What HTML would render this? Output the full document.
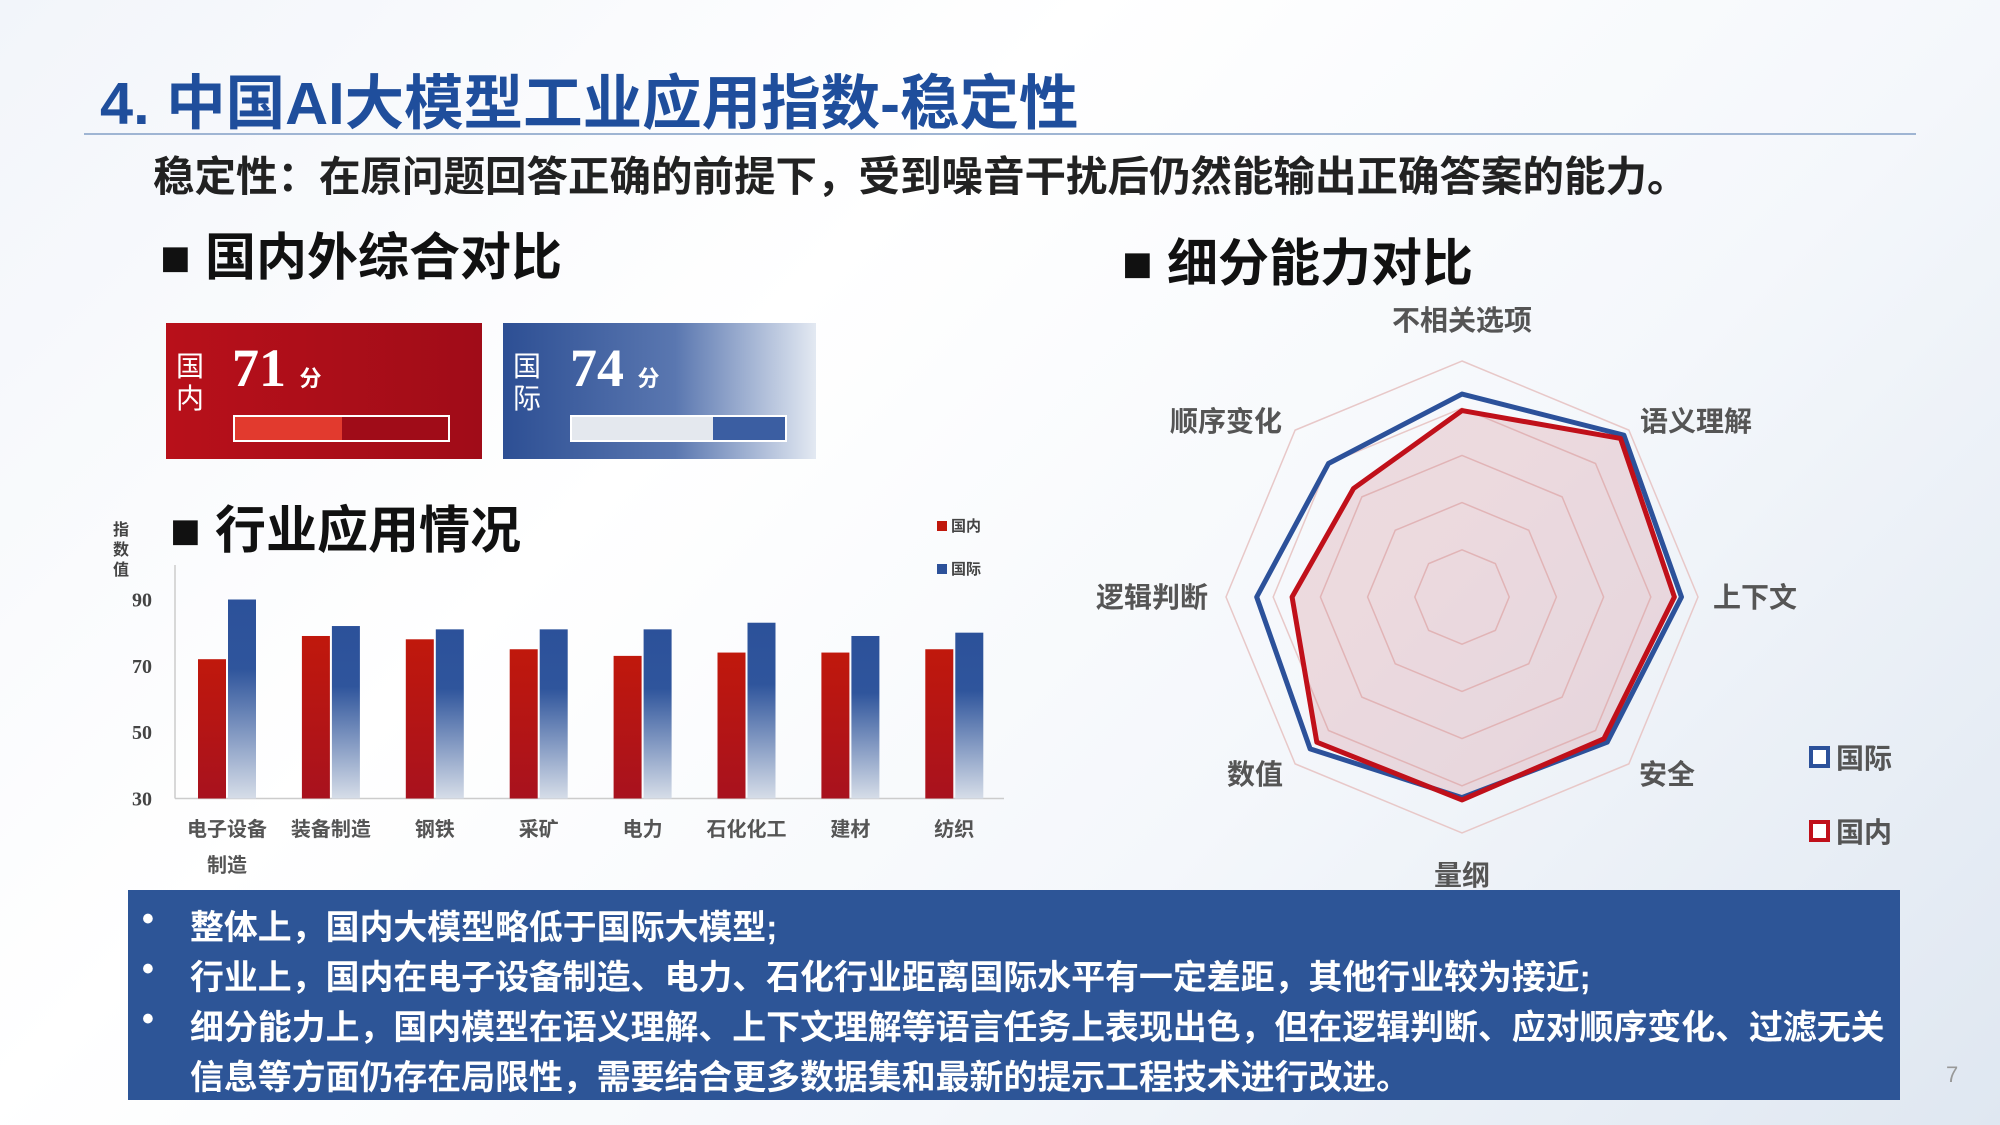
<!DOCTYPE html>
<html><head><meta charset="utf-8">
<style>
body{margin:0;width:2000px;height:1125px;overflow:hidden;font-family:"Liberation Sans","Noto Sans CJK SC",sans-serif;}
#root{position:relative;width:2000px;height:1125px;background:linear-gradient(135deg,#f2f5fa 0%,#ffffff 35%,#f4f7fb 65%,#dfe7f1 100%);}
.abs{position:absolute;white-space:nowrap;}
.b{font-weight:bold;}
</style></head><body>
<div id="root">
<div class="abs b" style="left:100px;top:56px;font-size:59.5px;color:#1f4e9c;">4. 中国AI大模型工业应用指数-稳定性</div>
<div class="abs" style="left:84px;top:133px;width:1832px;height:2px;background:#9fb5d3;"></div>
<div class="abs b" style="left:153px;top:143px;font-size:41.5px;color:#222;">稳定性：在原问题回答正确的前提下，受到噪音干扰后仍然能输出正确答案的能力。</div>
<div class="abs b" style="left:160px;top:216px;font-size:51px;color:#111;">■ 国内外综合对比</div>
<div class="abs b" style="left:1122px;top:222px;font-size:51px;color:#111;">■ 细分能力对比</div>
<div class="abs b" style="left:170px;top:489px;font-size:51px;color:#111;">■ 行业应用情况</div>

<div class="abs" style="left:166px;top:323px;width:316px;height:136px;background:linear-gradient(90deg,#b8101a,#a00c18);">
 <div class="abs" style="left:10px;top:28px;font-size:28px;line-height:32px;color:#fff;white-space:normal;width:30px;">国内</div>
 <div class="abs b" style="left:66px;top:14px;font-size:54px;color:#fff;font-family:'Liberation Serif',serif;">71 <span style="font-size:22px;font-family:'Noto Sans CJK SC',sans-serif;">分</span></div>
 <div class="abs" style="left:67px;top:92px;width:213px;height:23px;border:2px solid #fff;background:#a00c18;"><div style="width:50%;height:100%;background:#e23a2e;"></div></div>
</div>
<div class="abs" style="left:503px;top:323px;width:313px;height:136px;background:linear-gradient(90deg,#2d4f94,#5a77b0 55%,#e3e9f2);">
 <div class="abs" style="left:10px;top:28px;font-size:28px;line-height:32px;color:#fff;white-space:normal;width:30px;">国际</div>
 <div class="abs b" style="left:67px;top:14px;font-size:54px;color:#fff;font-family:'Liberation Serif',serif;">74 <span style="font-size:22px;font-family:'Noto Sans CJK SC',sans-serif;">分</span></div>
 <div class="abs" style="left:67px;top:92px;width:213px;height:23px;border:2px solid #fff;background:#3b5ea2;"><div style="width:66%;height:100%;background:#e4e8ee;"></div></div>
</div>

<svg class="abs" style="left:0;top:0" width="2000" height="1125" id="charts">
<defs>
<linearGradient id="gr" x1="0" y1="0" x2="0" y2="1"><stop offset="0" stop-color="#c0180c"/><stop offset="1" stop-color="#a8121e"/></linearGradient>
<linearGradient id="gb" x1="0" y1="0" x2="0" y2="1"><stop offset="0" stop-color="#2c519a"/><stop offset="0.35" stop-color="#2f559c"/><stop offset="1" stop-color="#d6dde8"/></linearGradient>
</defs>
<g id="bars"></g><g id="radar"></g>
</svg>

<div class="abs b" style="left:128px;top:890px;width:1772px;height:210px;background:#2d5597;color:#fff;font-size:33.9px;">
 <div class="abs" style="left:14px;top:10px;">•</div><div class="abs" style="left:62px;top:10px;">整体上，国内大模型略低于国际大模型;</div>
 <div class="abs" style="left:14px;top:60px;">•</div><div class="abs" style="left:62px;top:60px;">行业上，国内在电子设备制造、电力、石化行业距离国际水平有一定差距，其他行业较为接近;</div>
 <div class="abs" style="left:14px;top:110px;">•</div><div class="abs" style="left:62px;top:110px;">细分能力上，国内模型在语义理解、上下文理解等语言任务上表现出色，但在逻辑判断、应对顺序变化、过滤无关</div>
 <div class="abs" style="left:62px;top:160px;">信息等方面仍存在局限性，需要结合更多数据集和最新的提示工程技术进行改进。</div>
</div>
<div class="abs" style="left:1946px;top:1062px;font-size:22px;color:#999;">7</div>
</div>
<script>
const categories=["电子设备制造","装备制造","钢铁","采矿","电力","石化化工","建材","纺织"];
const domesticValues=[72,79,78,75,73,74,74,75];
const internationalValues=[90,82,81,81,81,83,79,80];
const yTicks=[30,50,70,90];
const radarAxes=["不相关选项","语义理解","上下文","安全","量纲","数值","逻辑判断","顺序变化"];
const radarIntl=[86,97,93,87,85,91,87,80];
const radarDom=[79,95,90,85,86,87,72,65];

const NS="http://www.w3.org/2000/svg";
function mk(tag,attrs,parent,text){const e=document.createElementNS(NS,tag);for(const k in attrs)e.setAttribute(k,attrs[k]);if(text!==undefined)e.textContent=text;parent.appendChild(e);return e;}
const bars=document.getElementById('bars');
const y0=798.5,yTop=599.5;
const y=v=>y0-(v-30)*(y0-yTop)/60;
const x0=198,step=103.9,bw=28;
mk('line',{x1:175,y1:565,x2:175,y2:y0,stroke:'#ccc','stroke-width':1.5},bars);
const ax=mk('line',{x1:175,y1:y0,x2:1004,y2:y0,stroke:'#ccc','stroke-width':1.5},bars);


yTicks.forEach(t=>{const e=mk('text',{x:152,y:y(t)+7,'text-anchor':'end','font-size':20,'font-family':'Liberation Serif,serif','font-weight':'bold',fill:'#444'},bars,String(t));

});
const yt=mk('text',{x:120,y:535,'font-size':16,'font-weight':'bold',fill:'#444','font-family':'Noto Sans CJK SC,sans-serif'},bars);
["指","数","值"].forEach((c,i)=>mk('tspan',{x:113,dy:i?20:0},yt,c));


categories.forEach((c,i)=>{const bx=x0+i*step;
const r=mk('rect',{x:bx,y:y(domesticValues[i]),width:bw,height:y0-y(domesticValues[i]),fill:'url(#gr)'},bars);


const b=mk('rect',{x:bx+30,y:y(internationalValues[i]),width:bw,height:y0-y(internationalValues[i]),fill:'url(#gb)'},bars);


const cx=bx+29;
let l1=c,l2=null;if(c.length>4){l1=c.slice(0,4);l2=c.slice(4);}
const t=mk('text',{x:cx,y:836,'text-anchor':'middle','font-size':20,'font-weight':'bold',fill:'#555','font-family':'Noto Sans CJK SC,sans-serif'},bars,l1);


if(l2){mk('text',{x:cx,y:872,'text-anchor':'middle','font-size':20,'font-weight':'bold',fill:'#555','font-family':'Noto Sans CJK SC,sans-serif'},bars,l2);}
});
[["国内","#c0180c",533],["国际","#2c519a",576]].forEach(([n,col,yy])=>{
const g=mk('g',{},bars);


mk('rect',{x:937,y:yy-12,width:10,height:10,fill:col},g);mk('text',{x:951,y:yy-2,'font-size':15,'font-weight':'bold',fill:'#444','font-family':'Noto Sans CJK SC,sans-serif'},g,n);});

const rg=document.getElementById('radar');
const cx=1462,cy=597,R=236;
const pt=(i,v)=>{const a=-Math.PI/2+i*Math.PI/4;return [cx+Math.cos(a)*R*v/100,cy+Math.sin(a)*R*v/100];};
[20,40,60,80,100].forEach(lv=>{const p=radarAxes.map((_,i)=>pt(i,lv).join(',')).join(' ');
const e=mk('polygon',{points:p,fill:'none',stroke:'#e8c8c8','stroke-width':1.5},rg);

});
mk('polygon',{points:radarDom.map((v,i)=>pt(i,v).join(',')).join(' '),fill:'rgba(200,100,110,0.2)',stroke:'none'},rg);
const pi=mk('polygon',{points:radarIntl.map((v,i)=>pt(i,v).join(',')).join(' '),fill:'none',stroke:'#2c519a','stroke-width':5,'stroke-linejoin':'round'},rg);


const pd2=mk('polygon',{points:radarDom.map((v,i)=>pt(i,v).join(',')).join(' '),fill:'none',stroke:'#c0101a','stroke-width':5,'stroke-linejoin':'round'},rg);


radarAxes.forEach((n,i)=>{
const a=-Math.PI/2+i*Math.PI/4;
const d=R+[-41,70,120,70,-41,70,120,70][i];
let X=cx+Math.cos(a)*d,Y=cy+Math.sin(a)*d;
if(i==0)Y=320;if(i==4)Y=875;
if(i==1||i==7){Y=421;X=i==1?1696:1226;}
if(i==3||i==5){Y=774;X=i==3?1667:1255;}
if(i==2)X=1755;if(i==6)X=1152;
const t=mk('text',{x:X,y:Y+10,'text-anchor':'middle','font-size':28,'font-weight':'bold',fill:'#555','font-family':'Noto Sans CJK SC,sans-serif'},rg,n);

});
[["国际","#2c519a",758],["国内","#c0101a",832]].forEach(([n,col,yy])=>{
const g=mk('g',{},rg);


mk('rect',{x:1811,y:yy-10,width:17,height:18,fill:'#fff',stroke:col,'stroke-width':4},g);
mk('text',{x:1836,y:yy+10,'font-size':28,'font-weight':'bold',fill:'#555','font-family':'Noto Sans CJK SC,sans-serif'},g,n);});
</script>
</body></html>
